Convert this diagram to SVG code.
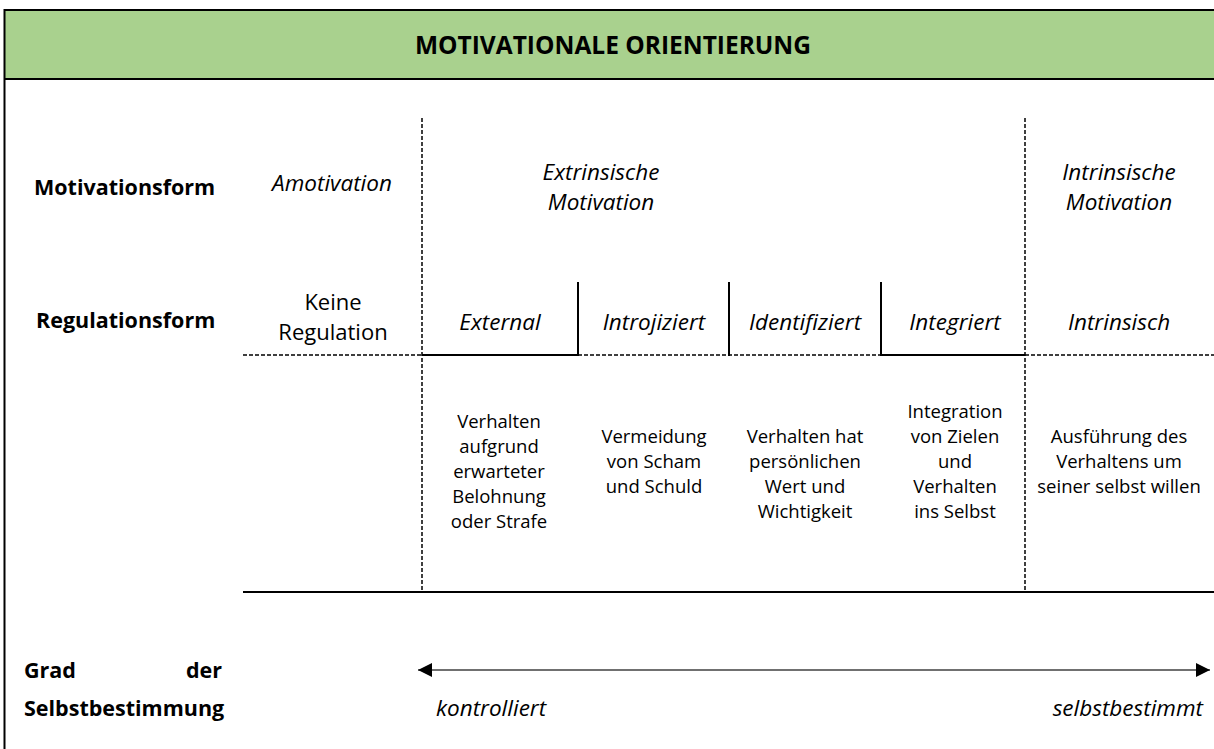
<svg xmlns="http://www.w3.org/2000/svg" width="1214" height="749" viewBox="0 0 1214 749">
<style>
text{font-family:"Open Sans","Liberation Sans",sans-serif;fill:#000}
.title{font-size:24.5px;font-weight:bold;text-anchor:middle}
.lbl{font-size:21.5px;font-weight:bold}
.it{font-size:22.5px;font-style:italic;text-anchor:middle}
.reg{font-size:22px;text-anchor:middle}
.desc{font-size:18.5px;text-anchor:middle}
.st{text-anchor:start}
.en{text-anchor:end}
.solid{stroke:#000;stroke-width:2;fill:none}
.dash{stroke:#000;stroke-width:1.5;stroke-dasharray:4 2;fill:none}
</style>
<defs>
<marker id="ah" viewBox="0 0 10 10" refX="10" refY="5" markerWidth="15" markerHeight="14" markerUnits="userSpaceOnUse" orient="auto-start-reverse">
<path d="M0,0 L10,5 L0,10 z" fill="#000"/>
</marker>
</defs>
<rect x="0" y="0" width="1214" height="749" fill="#fff"/>
<g id="header">
<rect x="4" y="10" width="1212" height="69" fill="#A9D18E"/>
<line class="solid" x1="4" y1="10" x2="1214" y2="10" stroke-width="2.5"/>
<line class="solid" x1="4" y1="79" x2="1214" y2="79" stroke-width="2.5"/>
<line class="solid" x1="4.5" y1="9" x2="4.5" y2="749" stroke-width="2.5"/>
<text class="title" x="613" y="54">MOTIVATIONALE ORIENTIERUNG</text>
</g>
<g id="connectors">
<line class="dash" x1="422" y1="118" x2="422" y2="592"/>
<line class="dash" x1="1025" y1="118" x2="1025" y2="592"/>
<line class="solid" x1="578" y1="282" x2="578" y2="356" stroke-width="2.5"/>
<line class="solid" x1="729" y1="282" x2="729" y2="356" stroke-width="2"/>
<line class="solid" x1="881" y1="282" x2="881" y2="356" stroke-width="1.5"/>
<line class="dash" x1="243" y1="355" x2="422" y2="355"/>
<line class="solid" x1="422" y1="355" x2="578" y2="355"/>
<line class="dash" x1="578" y1="355" x2="881" y2="355"/>
<line class="solid" x1="881" y1="355" x2="1025" y2="355" stroke-width="1.5"/>
<line class="dash" x1="1025" y1="355" x2="1214" y2="355"/>
<line class="solid" x1="243" y1="592" x2="1214" y2="592" stroke-width="2.2"/>
<line x1="418" y1="670" x2="1210" y2="670" stroke="#404040" stroke-width="1.6" marker-start="url(#ah)" marker-end="url(#ah)"/>
</g>
<g id="row-labels">
<text class="lbl" x="34" y="195">Motivationsform</text>
<text class="lbl" x="36" y="328">Regulationsform</text>
<text class="lbl" x="24" y="678">Grad</text>
<text class="lbl en" x="222" y="678">der</text>
<text class="lbl" x="24" y="716">Selbstbestimmung</text>
</g>
<g id="amotivation">
<text class="it" x="332" y="191">Amotivation</text>
<text class="reg" x="333" y="310">Keine</text>
<text class="reg" x="333" y="340">Regulation</text>
</g>
<g id="extrinsic">
<text class="it" x="601" y="180">Extrinsische</text>
<text class="it" x="601" y="210">Motivation</text>
</g>
<g id="intrinsic">
<text class="it" x="1119" y="180">Intrinsische</text>
<text class="it" x="1119" y="210">Motivation</text>
</g>
<g id="external">
<text class="it" x="500" y="330">External</text>
<text class="desc" x="499" y="428">Verhalten</text>
<text class="desc" x="499" y="453">aufgrund</text>
<text class="desc" x="499" y="478">erwarteter</text>
<text class="desc" x="499" y="503">Belohnung</text>
<text class="desc" x="499" y="528">oder Strafe</text>
</g>
<g id="introjiziert">
<text class="it" x="654" y="330">Introjiziert</text>
<text class="desc" x="654" y="443">Vermeidung</text>
<text class="desc" x="654" y="468">von Scham</text>
<text class="desc" x="654" y="493">und Schuld</text>
</g>
<g id="identifiziert">
<text class="it" x="805" y="330">Identifiziert</text>
<text class="desc" x="805" y="443">Verhalten hat</text>
<text class="desc" x="805" y="468">persönlichen</text>
<text class="desc" x="805" y="493">Wert und</text>
<text class="desc" x="805" y="518">Wichtigkeit</text>
</g>
<g id="integriert">
<text class="it" x="955" y="330">Integriert</text>
<text class="desc" x="955" y="418">Integration</text>
<text class="desc" x="955" y="443">von Zielen</text>
<text class="desc" x="955" y="468">und</text>
<text class="desc" x="955" y="493">Verhalten</text>
<text class="desc" x="955" y="518">ins Selbst</text>
</g>
<g id="intrinsisch">
<text class="it" x="1119" y="330">Intrinsisch</text>
<text class="desc" x="1119" y="443">Ausführung des</text>
<text class="desc" x="1119" y="468">Verhaltens um</text>
<text class="desc" x="1119" y="493">seiner selbst willen</text>
</g>
<g id="scale-labels">
<text class="it st" x="436" y="716">kontrolliert</text>
<text class="it en" x="1203" y="716">selbstbestimmt</text>
</g>
</svg>
